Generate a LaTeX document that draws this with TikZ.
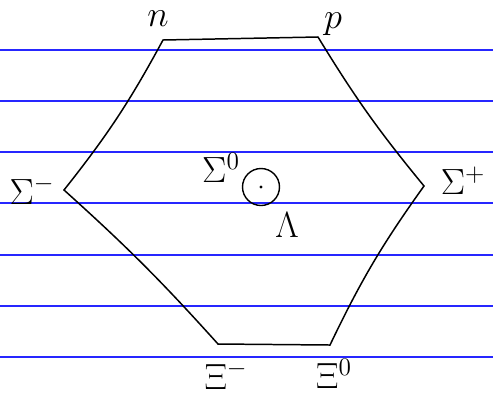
\documentclass[tikz,border=0pt]{standalone}
\usepackage{xcolor}
\usepackage{amsmath, amsfonts, amssymb, amsthm}
\usepackage{tikz}

\begin{document}
\begin{tikzpicture}[x=0.02cm, y=-0.02cm,
    particle/.style={font=\fontsize{20}{24}\selectfont},
    edge/.style={line width=0.85pt, line cap=round, line join=round}]
    \useasboundingbox (0, 0) rectangle (493, 397);
    \fill[white] (0, 0) rectangle (493, 397);

    \foreach \y in {50, 101, 152, 203, 255, 306, 357}
        \draw[blue!85, line width=0.6pt] (0, \y) -- (493, \y);

    \coordinate (0) at (163, 40);
    \coordinate (1) at (318, 37);
    \coordinate (2) at (424, 186);
    \coordinate (3) at (330, 345);
    \coordinate (4) at (218, 344);
    \coordinate (5) at (64, 190);

    \draw[edge] (0) -- (1);
    \draw[edge] (1) to[bend right=4] (2);
    \draw[edge] (2) to[bend right=5] (3);
    \draw[edge] (3) -- (4);
    \draw[edge] (4) to[bend right=3] (5);
    \draw[edge] (5) to[bend right=5] (0);

    \node[particle] at (158, 19) (n) {$n$};
    \node[particle] at (333, 24) (p) {$p$};
    \node[particle] at (32, 190) (sm) {$\Sigma^-$};
    \node[particle] at (463, 181) (sp) {$\Sigma^+$};
    \node[particle] at (221, 168) (s0) {$\Sigma^0$};
    \node[particle] at (287, 225) (l) {$\Lambda$};
    \node[particle] at (226, 375) (xm) {$\Xi^-$};
    \node[particle] at (334, 374) (x0) {$\Xi^0$};

    \node[draw, circle, minimum size=0.74cm, inner sep=0pt, line width=0.8pt] at (261, 187) (c) {};
    \fill (c.center) circle (0.9pt);
\end{tikzpicture}
\end{document}
